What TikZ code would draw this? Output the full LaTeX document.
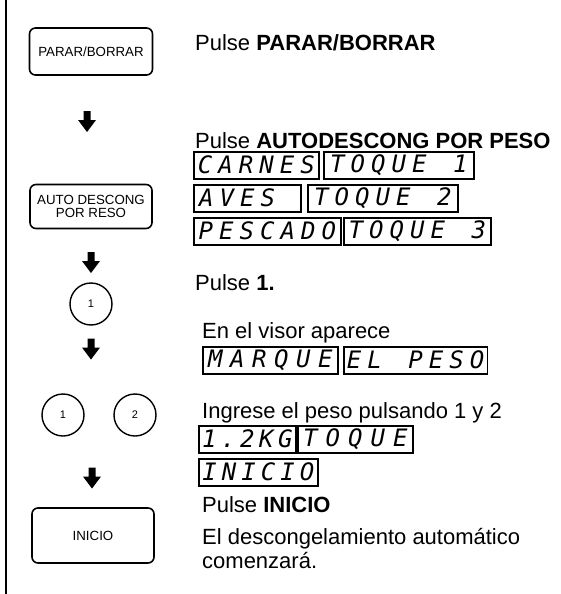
\documentclass[tikz,border=0pt]{standalone}
\usepackage{fontspec}
\setmainfont{Liberation Sans}
\newfontfamily\lcdfamily{DejaVu Sans Mono}
\newlength\lcdpitch
\def\lcdloop#1{\ifx#1\relax\else\makebox[\lcdpitch][c]{#1}\expandafter\lcdloop\fi}
\newcommand\lcd[2][20.5pt]{{\setlength\lcdpitch{#1}\lcdloop#2\relax}}
\tikzset{
  btn/.style={draw, line width=1.6, rounded corners=6, inner sep=0, align=center,
    font=\fontsize{13.3}{13}\selectfont},
  keycircle/.style={draw, circle, line width=1.4, minimum size=42, inner sep=0,
    font=\fontsize{11}{13}\selectfont},
  txt/.style={anchor=base west, inner sep=0, font=\fontsize{22}{26}\selectfont},
  lcdbox/.style={draw, line width=1.5, anchor=north west, inner sep=0, minimum height=27,
    font=\fontsize{24}{26}\selectfont\lcdfamily\itshape},
  downarrow/.pic={\fill (-3.5,-10.5) -- (3.5,-10.5) -- (3.5,-1.5) -- (9,-1.5) -- (0,10.5)
    -- (-9,-1.5) -- (-3.5,-1.5) -- cycle;}
}
\begin{document}
\begin{tikzpicture}[x=1pt,y=-1pt]
\useasboundingbox (0,0) rectangle (560,594);
\coordinate (ltop) at (5.5,0);
\coordinate (lbot) at (5.5,594);
\draw[line width=2] (ltop) -- (lbot);

% buttons
\node[btn, minimum width=123, minimum height=47] (parar) at (91,51.5) {PARAR/BORRAR};
\node[btn, minimum width=122, minimum height=44] (auto) at (91,206.5) {AUTO DESCONG\\POR RESO};
\node[keycircle] (k1) at (91,304) {1};
\node[keycircle] (k1b) at (63,415) {1};
\node[keycircle] (k2) at (135,415) {2};
\node[btn, minimum width=122, minimum height=55] (inicio) at (93,535.5) {INICIO};

% arrows
\pic at (87,121.5) {downarrow};
\pic at (91,262.5) {downarrow};
\pic at (91,349) {downarrow};
\pic at (92,478) {downarrow};

% texts
\node[txt] (t1) at (195,51) {Pulse \textbf{PARAR/BORRAR}};
\node[txt] (t2) at (195,148) {Pulse \textbf{AUTODESCONG POR PESO}};
\node[lcdbox, minimum width=125] (l1a) at (193,151) {\lcd{CARNES}};
\node[lcdbox, minimum width=150] (l1b) at (323,151) {\lcd{TOQUE~1}};
\node[lcdbox, minimum width=107] (l2a) at (193,184) {\lcd{AVES~}};
\node[lcdbox, minimum width=150] (l2b) at (307,184) {\lcd{TOQUE~2}};
\node[lcdbox, minimum width=147] (l3a) at (193,217) {\lcd{PESCADO}};
\node[lcdbox, minimum width=147] (l3b) at (343,217) {\lcd{TOQUE~3}};
\node[txt] (t3) at (195,290) {Pulse \textbf{1.}};
\node[txt] (t4) at (202,338) {En el visor aparece};
\node[lcdbox, minimum width=135] (l4a) at (202,346) {\lcd[22pt]{MARQUE}};
\node[lcdbox, minimum width=142] (l4b) at (343,346) {\lcd{EL~PESO}};
\node[txt] (t5) at (202,418) {Ingrese el peso pulsando 1 y 2};
\node[lcdbox, minimum width=97] (l5a) at (198,425) {\lcd[19pt]{1.2KG}};
\node[lcdbox, minimum width=115] (l5b) at (297,425) {\lcd[22.5pt]{TOQUE}};
\node[lcdbox, minimum width=119] (l6a) at (198,458) {\lcd[19.5pt]{INICIO}};
\node[txt] (t6) at (202,512) {Pulse \textbf{INICIO}};
\node[txt] (t7) at (202,544) {El descongelamiento automático};
\node[txt] (t8) at (202,568) {comenzará.};
\end{tikzpicture}
\end{document}
